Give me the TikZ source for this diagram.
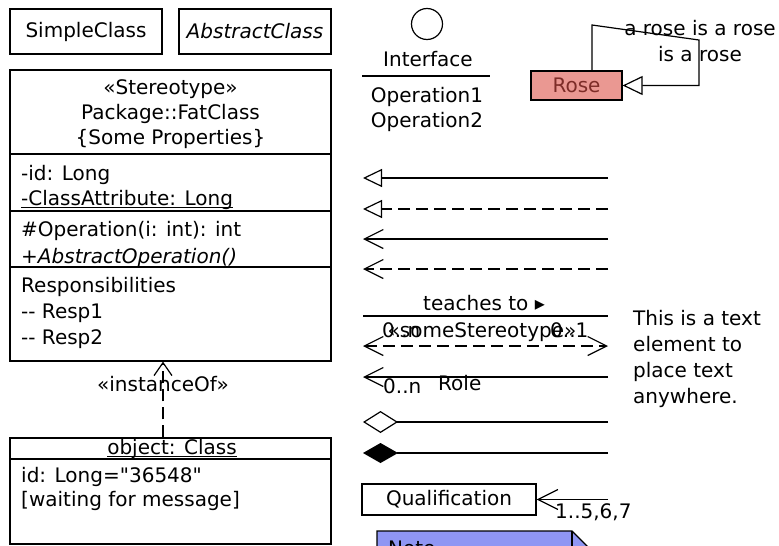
\documentclass[tikz,border=0pt]{standalone}
\usepackage{fontspec}
\setmainfont{DejaVu Sans}[Ligatures=TeXOff]
\usepackage{tikz}
\usetikzlibrary{arrows.meta}
\definecolor{rosebg}{RGB}{234,152,146}
\definecolor{rosetext}{RGB}{125,45,40}
\definecolor{notebg}{RGB}{143,150,243}

\begin{document}
\begin{tikzpicture}[x=1pt, y=-1pt,
    every node/.style={font=\fontsize{20}{26}\selectfont},
    umlbox/.style={rectangle, draw, line width=1.2pt, inner sep=0pt, align=center},
    line/.style={line width=1.2pt},
    txt/.style={inner sep=0pt, anchor=base west},
    ctxt/.style={inner sep=0pt, anchor=base},
    uline/.style={line width=0.9pt},
    dashline/.style={line, dash pattern=on 12pt off 6pt},
    gen/.style={line, -{Triangle[open, length=19pt, width=18pt]}},
    realize/.style={dashline, -{Triangle[open, length=19pt, width=18pt]}},
    openarrow/.style={-{Straight Barb[length=19pt, width=19pt]}}
]
    \useasboundingbox (0,0) rectangle (779,546);
    \clip (0,0) rectangle (779,546);

    % Simple classes
    \node[umlbox, minimum width=152pt, minimum height=45pt] (simple) at (86,31.5) {SimpleClass};
    \node[umlbox, minimum width=152pt, minimum height=45pt] (abstract) at (255,31.5) {\textit{AbstractClass}};

    % Fat class
    \node[umlbox, minimum width=321pt, minimum height=291pt] (fat) at (170.5,215.5) {};
    \node[ctxt] (stereo) at (170.5,94) {«Stereotype»};
    \node[ctxt] (fatname) at (170.5,119) {Package::FatClass};
    \node[ctxt] (props) at (170.5,144) {\{Some Properties\}};
    \draw[line] (10,154) -- (331,154);
    \node[txt] (attr1) at (21,180) {-id: Long};
    \node[txt] (attr2) at (21,205) {-ClassAttribute: Long};
    \draw[uline] ([yshift=-2pt]attr2.base west) -- ([yshift=-2pt]attr2.base east);
    \draw[line] (10,211) -- (331,211);
    \node[txt] (op1) at (21,236) {\#Operation(i: int): int};
    \node[txt] (op2) at (21,263) {\textit{+AbstractOperation()}};
    \draw[line] (10,267) -- (331,267);
    \node[txt] (resp) at (21,292) {Responsibilities};
    \node[txt] (resp1) at (21,318) {-{}- Resp1};
    \node[txt] (resp2) at (21,344) {-{}- Resp2};

    % Object
    \node[umlbox, minimum width=321pt, minimum height=106pt] (obj) at (170.5,491) {};
    \node[ctxt] (objname) at (172,454) {object: Class};
    \draw[uline] ([yshift=-2.5pt]objname.base west) -- ([yshift=-2.5pt]objname.base east);
    \draw[line] (10,459) -- (331,459);
    \node[txt] (objid) at (21,482) {id: Long="36548"};
    \node[txt] (objstate) at (21,506) {[waiting for message]};

    % instanceOf
    \coordinate (io) at (163,0);
    \draw[dashline, -{Straight Barb[length=13pt, width=18pt]}] (obj.north -| io) -- (fat.south -| io);
    \node[ctxt] (inst) at (163,391) {«instanceOf»};

    % Interface
    \node[circle, draw, line width=1.2pt, minimum size=31pt, inner sep=0pt] (iface) at (427,24) {};
    \node[ctxt] (ifname) at (428,66) {Interface};
    \draw[line] (362,76) -- (490,76);
    \node[ctxt] (ifop1) at (427,102) {Operation1};
    \node[ctxt] (ifop2) at (427,127) {Operation2};

    % Rose
    \node[umlbox, fill=rosebg, text=rosetext, minimum width=91pt, minimum height=29pt] (rose) at (576.5,85.5) {Rose};
    \coordinate (loopA) at (592,25);
    \coordinate (loopB) at (699,40);
    \draw[line, -{Triangle[open, length=20pt, width=19pt]}] (rose.north -| loopA) -- (loopA) -- (loopB) |- (rose.east);
    \node[ctxt] (roseA) at (700,35) {a rose is a rose};
    \node[ctxt] (roseB) at (700,61) {is a rose};

    % Relations
    \coordinate (genL) at (363,178);   \coordinate (genR) at (608,178);
    \coordinate (realL) at (363,209);  \coordinate (realR) at (608,209);
    \coordinate (navL) at (363,239);   \coordinate (navR) at (608,239);
    \coordinate (depL) at (363,269);   \coordinate (depR) at (608,269);
    \coordinate (assocL) at (363,316); \coordinate (assocR) at (608,316);
    \coordinate (biL) at (363,346);    \coordinate (biR) at (608,346);
    \coordinate (roleL) at (363,377);  \coordinate (roleR) at (608,377);
    \coordinate (aggL) at (363,422);   \coordinate (aggR) at (608,422);
    \coordinate (compL) at (363,453);  \coordinate (compR) at (608,453);

    \draw[gen] (genR) -- (genL);
    \draw[realize] (realR) -- (realL);
    \draw[line, openarrow] (navR) -- (navL);
    \draw[dashline, openarrow] (depR) -- (depL);
    \draw[line] (assocL) -- (assocR);
    \node[ctxt] (teach) at (484,310) {teaches to ▸};
    \draw[dashline, {Straight Barb[length=19pt, width=19pt]}-{Straight Barb[length=19pt, width=19pt]}] (biL) -- (biR);
    \node[txt] (multA) at (382,337) {0..n};
    \node[ctxt] (somest) at (482,337) {«someStereotype»};
    \node[txt] (multB) at (550,337) {0..1};
    \draw[line, openarrow] (roleR) -- (roleL);
    \node[txt] (rolename) at (438,390) {Role};
    \node[txt] (multC) at (383,393) {0..n};
    \draw[line, -{Diamond[open, length=35pt, width=22pt]}] (aggR) -- (aggL);
    \draw[line, -{Diamond[length=35pt, width=20pt]}] (compR) -- (compL);

    % Qualification
    \node[umlbox, minimum width=174pt, minimum height=31pt] (qual) at (449,499.5) {Qualification};
    \coordinate (qualR) at (608,499.5);
    \draw[line, -{Straight Barb[length=20pt, width=20pt]}] (qualR) -- (qual.east);
    \node[txt] (qmult) at (555,518) {1..5,6,7};

    % Text element
    \node[anchor=north west, align=left, inner sep=0pt] (textel) at (633,310) {This is a text\\element to\\place text\\anywhere.};

    % Note
    \filldraw[line, fill=notebg] (377,531) -- (572,531) -- (600,559) -- (600,600) -- (377,600) -- cycle;
    \draw[line] (572,531) -- (572,559) -- (600,559);
    \node[txt] (note) at (388,555) {Note};
\end{tikzpicture}
\end{document}
